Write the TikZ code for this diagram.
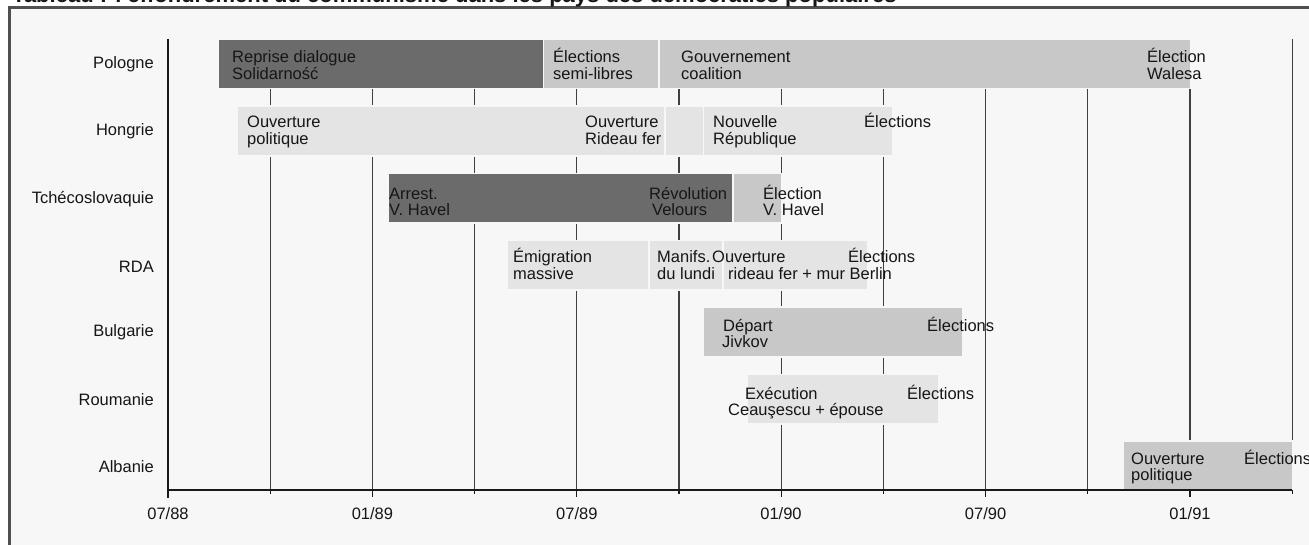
\documentclass[tikz,border=0pt]{standalone}
\usepackage{fontspec}
\setmainfont{Liberation Sans}
\definecolor{bgc}{HTML}{F7F7F7}
\definecolor{framec}{HTML}{505050}
\definecolor{darkbar}{HTML}{6B6B6B}
\definecolor{medbar}{HTML}{C8C8C8}
\definecolor{lightbar}{HTML}{E4E4E4}
\definecolor{gridc}{HTML}{404040}
\definecolor{txt}{HTML}{161616}
\begin{document}
\begin{tikzpicture}[x=1pt,y=-1pt,
  lab/.style={anchor=base west,inner sep=0,font=\fontsize{16.5}{16.5}\selectfont,text=txt},
  rowlab/.style={anchor=base east,inner sep=0,font=\fontsize{16.5}{16.5}\selectfont,text=txt},
  ticklab/.style={anchor=base,inner sep=0,font=\fontsize{16.5}{16.5}\selectfont,text=txt},
  barD/.style={fill=darkbar,draw=bgc,line width=1.2pt},
  barM/.style={fill=medbar,draw=bgc,line width=1.2pt},
  barL/.style={fill=lightbar,draw=bgc,line width=1.2pt},
  gridline/.style={draw=gridc,line width=1.1pt},
  axisline/.style={draw=black!90,line width=1.5pt}]
\useasboundingbox (0,0) rectangle (1309,545);
\clip (0,0) rectangle (1309,545);
% frame
\fill[bgc] (9,8) rectangle (1330,570);
\draw[framec,line width=3pt] (9,570) -- (9,8) -- (1330,8);
\node[anchor=base west,inner sep=0,font=\bfseries\fontsize{22}{22}\selectfont,text=txt] (title) at (12,2.5) {Tableau : l'effondrement du communisme dans les pays des démocraties populaires};
% grid
\foreach \i in {1,...,11} \draw[gridline] ({168+102.2*\i},39) -- ({168+102.2*\i},490);
% bars Pologne
\path[barD] (218,39) rectangle (543.5,88.5);
\path[barM] (543.5,39) rectangle (659,88.5);
\path[barM] (659,39) rectangle (1191,88.5);
% Hongrie
\path[barL] (237,106) rectangle (665,156);
\path[barL] (665,106) rectangle (703.5,156);
\path[barL] (703.5,106) rectangle (893,156);
% Tchecoslovaquie
\path[barD] (388,173.5) rectangle (733,223);
\path[barM] (733,173.5) rectangle (781.5,223);
% RDA
\path[barL] (507,240.5) rectangle (649,290);
\path[barL] (649,240.5) rectangle (723,290);
\path[barL] (723,240.5) rectangle (868,290);
% Bulgarie
\path[barM] (703,307) rectangle (963,357);
% Roumanie
\path[barL] (747,374.5) rectangle (939,424);
% Albanie
\path[barM] (1123,441) rectangle (1292.2,490);
% axis
\draw[axisline] (168,39) -- (168,498);
\draw[axisline] (168,490) -- (1292.2,490);
\foreach \i in {1,...,11} \draw[axisline,line width=1.1pt] ({168+102.2*\i},490) -- ({168+102.2*\i},494);
\foreach \i in {2,4,6,8,10} \draw[axisline,line width=1.1pt] ({168+102.2*\i},490) -- ({168+102.2*\i},497);
% tick labels
\node[ticklab] (t1) at (168,519) {07/88};
\node[ticklab] (t2) at (372.4,519) {01/89};
\node[ticklab] (t3) at (576.8,519) {07/89};
\node[ticklab] (t4) at (781,519) {01/90};
\node[ticklab] (t5) at (985.6,519) {07/90};
\node[ticklab] (t6) at (1190,519) {01/91};
% row labels
\node[rowlab] (rpl) at (154,69) {Pologne};
\node[rowlab] (rhu) at (154,136) {Hongrie};
\node[rowlab] (rcz) at (154,203.5) {Tchécoslovaquie};
\node[rowlab] (rrda) at (154,272.5) {RDA};
\node[rowlab] (rbg) at (154,337) {Bulgarie};
\node[rowlab] (rro) at (154,405.5) {Roumanie};
\node[rowlab] (ral) at (154,472.5) {Albanie};
% Pologne texts
\node[lab] (pl1a) at (232,63) {Reprise dialogue};
\node[lab] (pl1b) at (232,79.5) {Solidarność};
\node[lab] (pl2a) at (553,63) {Élections};
\node[lab] (pl2b) at (553,79.5) {semi-libres};
\node[lab] (pl3a) at (681,63) {Gouvernement};
\node[lab] (pl3b) at (681,79.5) {coalition};
\node[lab] (pl4a) at (1147,63) {Élection};
\node[lab] (pl4b) at (1147,79.5) {Walesa};
% Hongrie texts
\node[lab] (hu1a) at (247,128) {Ouverture};
\node[lab] (hu1b) at (247,144.5) {politique};
\node[lab] (hu2a) at (585,128) {Ouverture};
\node[lab] (hu2b) at (585,144.5) {Rideau fer};
\node[lab] (hu3a) at (713,128) {Nouvelle};
\node[lab] (hu3b) at (713,144.5) {République};
\node[lab] (hu4a) at (864,128) {Élections};
% Tchecoslovaquie texts
\node[lab] (cz1a) at (389,199.5) {Arrest.};
\node[lab] (cz1b) at (389,216) {V. Havel};
\node[lab] (cz2a) at (649,199.5) {Révolution};
\node[lab] (cz2b) at (652,216) {Velours};
\node[lab] (cz3a) at (763,199.5) {Élection};
\node[lab] (cz3b) at (763,216) {V. Havel};
% RDA texts
\node[lab] (rd1a) at (513,263) {Émigration};
\node[lab] (rd1b) at (513,279.5) {massive};
\node[lab] (rd2a) at (657,263) {Manifs.};
\node[lab] (rd2b) at (657,279.5) {du lundi};
\node[lab] (rd3a) at (712,263) {Ouverture};
\node[lab] (rd3b) at (728,279.5) {rideau fer + mur Berlin};
\node[lab] (rd4a) at (848,263) {Élections};
% Bulgarie texts
\node[lab] (bg1a) at (723,331) {Départ};
\node[lab] (bg1b) at (722,347.5) {Jivkov};
\node[lab] (bg2a) at (927,331) {Élections};
% Roumanie texts
\node[lab] (ro1a) at (745,399) {Exécution};
\node[lab] (ro1b) at (728,415.5) {Ceauşescu + épouse};
\node[lab] (ro2a) at (907,399) {Élections};
% Albanie texts
\node[lab] (al1a) at (1131,464) {Ouverture};
\node[lab] (al1b) at (1131,480.5) {politique};
\node[lab] (al2a) at (1244,464) {Élections};
\end{tikzpicture}
\end{document}
